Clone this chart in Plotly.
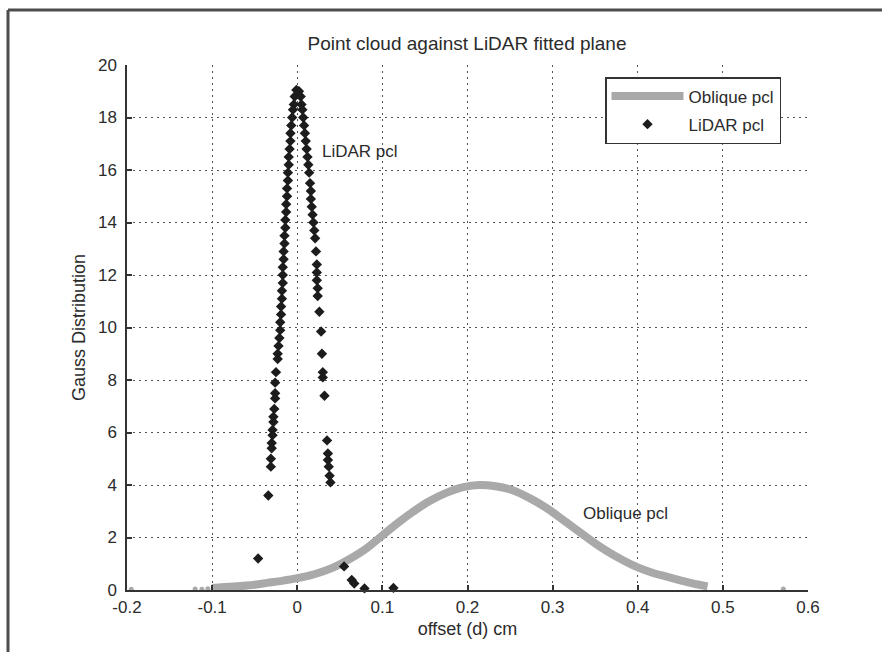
import plotly.graph_objects as go

# Oblique point cloud: offset (cm) vs Gauss distribution value
oblique_x = [-0.10, -0.075, -0.05, -0.035, -0.02, 0.0, 0.02, 0.042, 0.06, 0.082,
             0.097, 0.12, 0.136, 0.155, 0.175, 0.195, 0.214, 0.233, 0.253, 0.273,
             0.293, 0.312, 0.332, 0.356, 0.370, 0.379, 0.40, 0.418, 0.435, 0.45,
             0.462, 0.472, 0.482]
oblique_y = [0.08, 0.13, 0.20, 0.27, 0.34, 0.45, 0.60, 0.85, 1.15, 1.60,
             2.00, 2.60, 2.98, 3.38, 3.70, 3.92, 4.00, 3.95, 3.80, 3.50,
             3.12, 2.68, 2.20, 1.64, 1.36, 1.20, 0.86, 0.65, 0.50, 0.37,
             0.27, 0.20, 0.14]

# Sparse oblique points lying away from the main curve
oblique_tail_x = [-0.195, -0.12, -0.112, -0.105, 0.571]
oblique_tail_y = [0.03, 0.04, 0.03, 0.05, 0.04]

# LiDAR point cloud, left flank of the peak
lidar_left_x = [-0.001, -0.003, -0.004, -0.005, -0.006, -0.007, -0.008, -0.008, -0.009, -0.010,
                -0.010, -0.011, -0.011, -0.012, -0.012, -0.013, -0.013, -0.014, -0.014, -0.015,
                -0.015, -0.016, -0.016, -0.017, -0.017, -0.017, -0.018, -0.018, -0.019, -0.019,
                -0.020, -0.020, -0.021, -0.022, -0.023, -0.023, -0.025, -0.026, -0.026, -0.026,
                -0.027, -0.028, -0.028, -0.029, -0.029, -0.030, -0.030, -0.031, -0.031, -0.034,
                -0.046]
lidar_left_y = [19.05, 18.8, 18.5, 18.3, 18.0, 17.7, 17.4, 17.1, 16.8, 16.5,
                16.2, 15.9, 15.6, 15.3, 15.0, 14.7, 14.4, 14.1, 13.8, 13.5,
                13.2, 12.9, 12.6, 12.3, 12.0, 11.7, 11.4, 11.1, 10.8, 10.5,
                10.2, 9.9, 9.6, 9.3, 9.0, 8.8, 8.3, 7.9, 7.5, 7.3,
                6.9, 6.6, 6.4, 6.1, 5.9, 5.6, 5.4, 5.0, 4.7, 3.6,
                1.2]

# LiDAR point cloud, right flank of the peak
lidar_right_x = [0.002, 0.004, 0.005, 0.006, 0.007, 0.008, 0.009, 0.010, 0.011, 0.012,
                 0.013, 0.014, 0.015, 0.016, 0.016, 0.017, 0.018, 0.019, 0.020, 0.021,
                 0.022, 0.023, 0.023, 0.023, 0.024, 0.024, 0.026, 0.028, 0.029, 0.030,
                 0.030, 0.032, 0.035, 0.036, 0.036, 0.037, 0.038, 0.039, 0.055, 0.064,
                 0.067, 0.079, 0.113]
lidar_right_y = [19.0, 18.8, 18.5, 18.3, 18.0, 17.7, 17.4, 17.1, 16.8, 16.5,
                 16.2, 15.9, 15.5, 15.2, 14.9, 14.6, 14.3, 14.0, 13.7, 13.4,
                 12.9, 12.4, 12.1, 11.8, 11.5, 11.2, 10.6, 9.85, 9.0, 8.3,
                 8.1, 7.4, 5.7, 5.2, 4.95, 4.7, 4.35, 4.1, 0.9, 0.38,
                 0.25, 0.06, 0.08]

x_ticks = [-0.2, -0.1, 0, 0.1, 0.2, 0.3, 0.4, 0.5, 0.6]
x_labels = ["-0.2", "-0.1", "0", "0.1", "0.2", "0.3", "0.4", "0.5", "0.6"]
y_ticks = [0, 2, 4, 6, 8, 10, 12, 14, 16, 18, 20]

GREY = "#a9a9a9"
INK = "#1c1c1c"
TEXT = "#2b2b2b"
FONT = "Liberation Sans, Arial, sans-serif"

fig = go.Figure()

fig.add_trace(go.Scatter(
    x=oblique_x, y=oblique_y, mode="lines",
    line=dict(color=GREY, width=8, shape="spline"),
    name="Oblique pcl", legendgroup="obl",
))
fig.add_trace(go.Scatter(
    x=oblique_tail_x, y=oblique_tail_y, mode="markers",
    marker=dict(color=GREY, size=5, symbol="circle"),
    showlegend=False, legendgroup="obl", cliponaxis=False,
))
fig.add_trace(go.Scatter(
    x=lidar_left_x + lidar_right_x, y=lidar_left_y + lidar_right_y, mode="markers",
    marker=dict(color=INK, size=8, symbol="diamond"),
    name="LiDAR pcl", cliponaxis=False,
))

axis_common = dict(
    showline=True, linecolor="#333333", linewidth=1.5,
    ticks="inside", ticklen=5, tickwidth=1.5, tickcolor="#333333",
    showgrid=True, gridcolor="#555555", gridwidth=1.2, griddash="2px,4px",
    zeroline=False, mirror=False,
    tickfont=dict(family=FONT, size=17, color=TEXT),
)

fig.update_xaxes(
    range=[-0.2, 0.6], tickvals=x_ticks, ticktext=x_labels,
    ticklabelstandoff=1,
    title=dict(text="offset (d) cm", font=dict(family=FONT, size=18, color=TEXT), standoff=6),
    **axis_common,
)
fig.update_yaxes(
    range=[0, 20], tickvals=y_ticks,
    ticklabelstandoff=5,
    title=dict(text="Gauss Distribution", font=dict(family=FONT, size=18, color=TEXT), standoff=8),
    **axis_common,
)

fig.add_annotation(x=0.0265, y=16.7, text="LiDAR pcl", showarrow=False,
                   xanchor="left", yanchor="middle",
                   font=dict(family=FONT, size=17, color=TEXT))
fig.add_annotation(x=0.333, y=2.9, text="Oblique pcl", showarrow=False,
                   xanchor="left", yanchor="middle",
                   font=dict(family=FONT, size=17, color=TEXT))

# Outer figure frame (top and left edges)
fig.add_shape(type="line", xref="paper", yref="paper",
              x0=(8 - 127) / 681, x1=(890 - 127) / 681,
              y0=(590 - 10) / 525, y1=(590 - 10) / 525,
              line=dict(color="#4d4d4d", width=3))
fig.add_shape(type="line", xref="paper", yref="paper",
              x0=(8 - 127) / 681, x1=(8 - 127) / 681,
              y0=(590 - 10) / 525, y1=(590 - 660) / 525,
              line=dict(color="#4d4d4d", width=3))

fig.update_layout(
    width=882, height=652,
    margin=dict(l=127, r=74, t=65, b=62),
    paper_bgcolor="white", plot_bgcolor="white",
    title=dict(text="Point cloud against LiDAR fitted plane",
               x=(467 / 882), xanchor="center", y=1 - 43 / 652, yanchor="middle",
               font=dict(family=FONT, size=19, color=TEXT)),
    legend=dict(x=(605 - 127) / 681, y=(590 - 77) / 525, xanchor="left", yanchor="top",
                bgcolor="white", bordercolor="#333333", borderwidth=1.5,
                font=dict(family=FONT, size=17, color=TEXT),
                tracegroupgap=3, itemwidth=72),
    showlegend=True,
)

fig.write_html("out.html")
